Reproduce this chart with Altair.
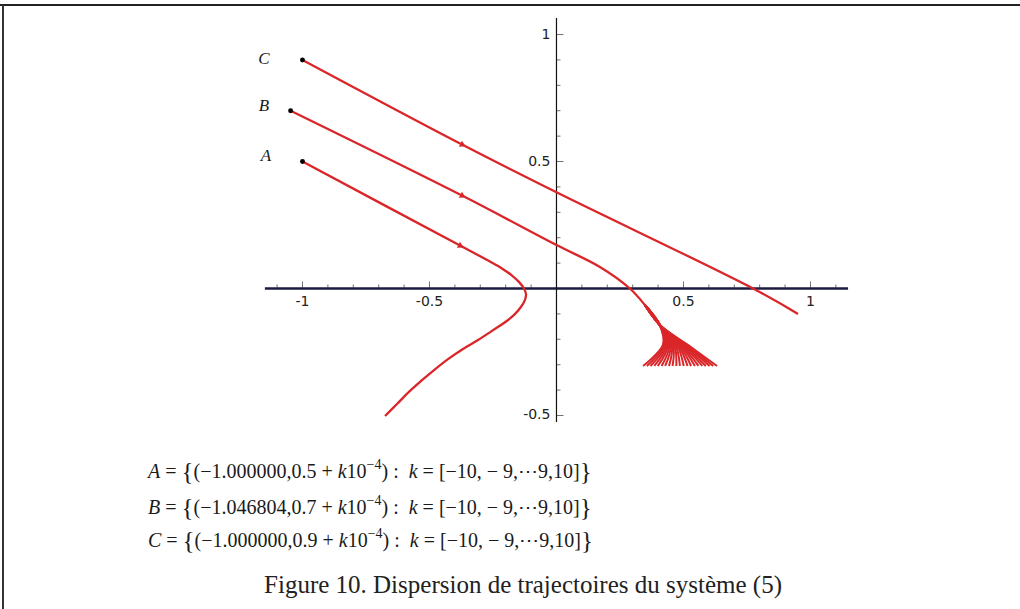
import altair as alt
import pandas as pd

# ---------------------------------------------------------------- data
# Trajectory A (21 starting points, curves coincide at this scale)
a_x = [-1.0, -0.376, -0.317, -0.262, -0.215, -0.175, -0.148, -0.128, -0.120, -0.124, -0.140,
       -0.167, -0.207, -0.254, -0.309, -0.368, -0.427, -0.482, -0.533, -0.581, -0.628, -0.675]
a_y = [0.5, 0.167, 0.136, 0.106, 0.079, 0.051, 0.026, 0.0, -0.022, -0.045, -0.073,
       -0.104, -0.136, -0.167, -0.203, -0.238, -0.278, -0.321, -0.364, -0.407, -0.455, -0.502]

# Trajectory C (21 starting points, curves coincide)
c_x = [-1.0, -0.368, 0.0, 0.774, 0.951]
c_y = [0.9, 0.565, 0.379, 0.0, -0.100]

# Trajectory B: common trunk, then the 21 curves spread into a fan
b_trunk_x = [-1.046804, -0.368, 0.0, 0.171, 0.289, 0.348]
b_trunk_y = [0.7, 0.364, 0.171, 0.085, 0.0, -0.065]
b_apex_x = 0.407
b_apex_y = -0.144
b_k = [-10, -9, -8, -7, -6, -5, -4, -3, -2, -1, 0, 1, 2, 3, 4, 5, 6, 7, 8, 9, 10]
b_mid_x = [0.419, 0.424, 0.429, 0.434, 0.439, 0.444, 0.449, 0.454, 0.459, 0.464, 0.469,
           0.475, 0.480, 0.485, 0.490, 0.495, 0.500, 0.505, 0.510, 0.515, 0.520]
b_mid_y = [-0.222, -0.222, -0.222, -0.222, -0.222, -0.223, -0.223, -0.223, -0.223, -0.223, -0.223,
           -0.223, -0.223, -0.223, -0.223, -0.224, -0.224, -0.224, -0.224, -0.224, -0.224]
b_end_x = [0.341, 0.356, 0.370, 0.385, 0.399, 0.414, 0.428, 0.443, 0.457, 0.472, 0.486,
           0.501, 0.516, 0.530, 0.545, 0.559, 0.574, 0.588, 0.603, 0.617, 0.632]
b_end_y = [-0.305] * 21

# Initial points, their names and the direction arrows
start_name = ["A", "B", "C"]
start_x = [-1.0, -1.046804, -1.0]
start_y = [0.5, 0.7, 0.9]
name_x = [-1.144, -1.152, -1.152]
name_y = [0.522, 0.718, 0.904]
arrow_x = [-0.376, -0.368, -0.368]
arrow_y = [0.167, 0.364, 0.565]
arrow_angle = [28, 27, 27]

# Axes through the origin
x_major = [-1.0, -0.5, 0.5, 1.0]
x_major_lbl = ["-1", "-0.5", "0.5", "1"]
x_minor = [-1.1, -0.9, -0.8, -0.7, -0.6, -0.4, -0.3, -0.2, -0.1,
           0.1, 0.2, 0.3, 0.4, 0.6, 0.7, 0.8, 0.9, 1.1]
y_major = [-0.5, 0.5, 1.0]
y_major_lbl = ["-0.5", "0.5", "1"]
y_minor = [-0.4, -0.3, -0.2, -0.1, 0.1, 0.2, 0.3, 0.4, 0.6, 0.7, 0.8, 0.9]
x_axis_span = [-1.148, 1.148]
y_axis_span = [-0.526, 1.065]

# Sets of initial conditions printed under the plot
set_names = ["A", "B", "C"]
set_points = ["−1.000000,0.5", "−1.046804,0.7", "−1.000000,0.9"]
caption = "Figure 10. Dispersion de trajectoires du système (5)"

# ---------------------------------------------------------------- tables
rows = []
for i, (x, y) in enumerate(zip(a_x, a_y)):
    rows.append({"traj": "A", "i": i, "x": x, "y": y})
for i, (x, y) in enumerate(zip(c_x, c_y)):
    rows.append({"traj": "C", "i": i, "x": x, "y": y})
for i, (x, y) in enumerate(zip(b_trunk_x + [b_apex_x], b_trunk_y + [b_apex_y])):
    rows.append({"traj": "B", "i": i, "x": x, "y": y})
traj_df = pd.DataFrame(rows)

# each B curve leaves the shared trunk shortly before the apex of the fan
fan_rows = []
for j, k in enumerate(b_k):
    pts = [(b_trunk_x[-1], b_trunk_y[-1]), (b_apex_x, b_apex_y),
           (b_mid_x[j], b_mid_y[j]), (b_end_x[j], b_end_y[j])]
    for i, (x, y) in enumerate(pts):
        fan_rows.append({"traj": f"B{k}", "i": i, "x": x, "y": y})
fan_df = pd.DataFrame(fan_rows)

start_df = pd.DataFrame({"name": start_name, "x": start_x, "y": start_y,
                         "nx": name_x, "ny": name_y})
arrow_df = pd.DataFrame({"x": arrow_x, "y": arrow_y, "angle": arrow_angle})

# Times-compatible advance widths (per 1000 em) used to set the formula lines
W = {" ": 250, "(": 333, ")": 333, "−": 564, "+": 564, "=": 564, ".": 250, ",": 250,
     ":": 278, "[": 333, "]": 333, "{": 480, "}": 480, "A": 611, "B": 611, "C": 667,
     "k": 444, "⋯": 1000}


def width(s, size):
    return sum(W.get(ch, 500) for ch in s) / 1000 * size


FS = 20
seg_rows = []
row_px_y = [472, 508, 541]
for name, pt, py in zip(set_names, set_points, row_px_y):
    segs = [(name, "it"), (" = ", "rm"), ("{", "big"), ("(" + pt + " + ", "rm"),
            ("k", "it"), ("10", "rm"), ("−4", "sup"), (")", "rm"), (" : ", "rm"),
            (" k", "it"), (" = [−10, − 9,⋯9,10]", "rm"), ("}", "big")]
    px = 148.0
    for txt, kind in segs:
        size = {"rm": FS, "it": FS, "big": FS * 1.25, "sup": FS * 0.7}[kind]
        lead = len(txt) - len(txt.lstrip(" "))
        seg_rows.append({"t": txt.strip(), "kind": kind, "size": size,
                         "px": px + width(" " * lead, size),
                         "py": py - (7 if kind == "sup" else 0)})
        px += width(txt, size)
seg_df = pd.DataFrame(seg_rows)

# ---------------------------------------------------------------- chart
X_DOMAIN = [-2.191, 1.825]
Y_DOMAIN = [-1.262, 1.136]
xs = alt.Scale(domain=X_DOMAIN, nice=False, zero=False)
ys = alt.Scale(domain=Y_DOMAIN, nice=False, zero=False)
X = lambda f: alt.X(f, type="quantitative", scale=xs, axis=None)
Y = lambda f: alt.Y(f, type="quantitative", scale=ys, axis=None)
RED = "#da2629"
INK = "#1a1a1a"

x_axis = alt.Chart(pd.DataFrame({"x": [x_axis_span[0]], "x2": [x_axis_span[1]], "y": [0.0]})).mark_rule(
    color="#1b1b40", strokeWidth=2.4).encode(x=X("x"), x2="x2", y=Y("y"))
y_axis = alt.Chart(pd.DataFrame({"y": [y_axis_span[0]], "y2": [y_axis_span[1]], "x": [0.0]})).mark_rule(
    color="#111111", strokeWidth=1.2).encode(x=X("x"), y=Y("y"), y2="y2")

xt_major = alt.Chart(pd.DataFrame({"x": x_major, "y": 0.0})).mark_tick(
    orient="vertical", size=7, thickness=1, color="#333", yOffset=-3.5).encode(x=X("x"), y=Y("y"))
xt_minor = alt.Chart(pd.DataFrame({"x": x_minor, "y": 0.0})).mark_tick(
    orient="vertical", size=4, thickness=1, color="#333", yOffset=-2).encode(x=X("x"), y=Y("y"))
yt_major = alt.Chart(pd.DataFrame({"y": y_major, "x": 0.0})).mark_tick(
    orient="horizontal", size=7, thickness=1, color="#333", xOffset=3.5).encode(x=X("x"), y=Y("y"))
yt_minor = alt.Chart(pd.DataFrame({"y": y_minor, "x": 0.0})).mark_tick(
    orient="horizontal", size=4, thickness=1, color="#333", xOffset=2).encode(x=X("x"), y=Y("y"))

x_lbl = alt.Chart(pd.DataFrame({"x": x_major, "y": 0.0, "t": x_major_lbl})).mark_text(
    font="DejaVu Sans", fontSize=14, color="#222", baseline="middle", dy=13).encode(
    x=X("x"), y=Y("y"), text="t:N")
y_lbl = alt.Chart(pd.DataFrame({"y": y_major, "x": 0.0, "t": y_major_lbl})).mark_text(
    font="DejaVu Sans", fontSize=14, color="#222", baseline="middle", align="right", dx=-6).encode(
    x=X("x"), y=Y("y"), text="t:N")

curves = alt.Chart(traj_df).mark_line(
    color=RED, strokeWidth=2.3, interpolate="catmull-rom").encode(
    x=X("x"), y=Y("y"), detail="traj:N", order="i:Q")
fan = alt.Chart(fan_df).mark_line(
    color=RED, strokeWidth=2.0, interpolate="catmull-rom").encode(
    x=X("x"), y=Y("y"), detail="traj:N", order="i:Q")

arrows = alt.Chart(arrow_df).mark_point(
    shape="triangle-right", filled=True, color=RED, size=45, opacity=1).encode(
    x=X("x"), y=Y("y"), angle=alt.Angle("angle:Q", scale=None))

dots = alt.Chart(start_df).mark_circle(color="black", size=24, opacity=1).encode(x=X("x"), y=Y("y"))
names = alt.Chart(start_df).mark_text(
    font="Liberation Serif", fontStyle="italic", fontSize=17, color=INK, baseline="middle").encode(
    x=X("nx"), y=Y("ny"), text="name:N")


def seg_layer(kind, italic=False):
    base = alt.Chart(seg_df).transform_filter(alt.datum.kind == kind)
    props = dict(font="Liberation Serif", color=INK, align="left", baseline="middle")
    if italic:
        props["fontStyle"] = "italic"
    return base.mark_text(**props).encode(
        x=alt.X("px:Q", scale=None, axis=None),
        y=alt.Y("py:Q", scale=None, axis=None),
        size=alt.Size("size:Q", scale=None, legend=None),
        text="t:N")


formulas = seg_layer("rm") + seg_layer("it", True) + seg_layer("big") + seg_layer("sup")

cap = alt.Chart(pd.DataFrame({"t": [caption]})).mark_text(
    font="Liberation Serif", fontSize=25, color="#222", baseline="middle").encode(
    x=alt.value(523), y=alt.value(585), text="t:N")

frame_top = alt.Chart(pd.DataFrame({"a": [0]})).mark_rule(color="#222", strokeWidth=2).encode(
    x=alt.value(0), x2=alt.value(1020), y=alt.value(5))
frame_left = alt.Chart(pd.DataFrame({"a": [0]})).mark_rule(color="#333", strokeWidth=2).encode(
    x=alt.value(3), y=alt.value(5), y2=alt.value(609))

chart = alt.layer(
    frame_top, frame_left,
    x_axis, y_axis, xt_major, xt_minor, yt_major, yt_minor, x_lbl, y_lbl,
    curves, fan, arrows, dots, names, formulas, cap,
).properties(
    width=1020, height=609, padding=0, background="white",
    autosize=alt.AutoSizeParams(type="none"),
).configure_view(strokeWidth=0)

chart.save("out.html", embed_options={"renderer": "svg", "actions": False})
